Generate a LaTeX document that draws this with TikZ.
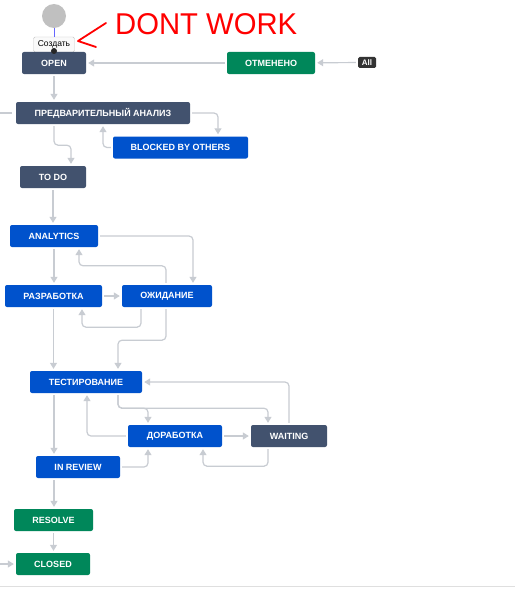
\documentclass[tikz,border=0pt]{standalone}
\usepackage{fontspec}
\setmainfont{Liberation Sans}
\usetikzlibrary{arrows.meta}
\definecolor{jdark}{HTML}{42526E}
\definecolor{jblue}{HTML}{0052CC}
\definecolor{jgreen}{HTML}{00875A}
\definecolor{jline}{HTML}{C8CCD2}
\definecolor{jstart}{HTML}{C0C0C0}

\tikzset{
  status/.style={rounded corners=2pt, text=white, minimum height=22pt, inner sep=0pt,
    font=\fontsize{9}{10}\selectfont\bfseries},
  darkstatus/.style={status, fill=jdark},
  bluestatus/.style={status, fill=jblue},
  greenstatus/.style={status, fill=jgreen},
  flow/.style={draw=jline, line width=1.2pt, ->, rounded corners=4pt,
    shorten >=2pt, shorten <=2pt},
}

\begin{document}
\begin{tikzpicture}[x=1pt, y=-1pt, >={Triangle[length=6pt,width=7pt]}]
    \useasboundingbox[fill=white] (0,0) rectangle (515,610);

    % Start and create button
    \node[circle, fill=jstart, minimum size=24pt, inner sep=0pt] (start) at (54,16) {};
    \node[draw=gray!45, fill=gray!4, rounded corners=1.5pt, minimum width=41pt, minimum height=15pt,
      inner sep=0pt, font=\fontsize{8.5}{10}\selectfont] (create) at (54,44.5) {Создать};
    \draw[blue!60, line width=1pt] (start) -- (create);

    % Note in red
    \node[red, anchor=west, inner sep=0pt] (note) at (115,24) {\resizebox{182pt}{21pt}{DONT WORK}};
    \draw[red, line width=1.8pt, line cap=round, line join=round] (106,23) -- (78,41) -- (96,47);

    % Statuses
    \node[darkstatus, minimum width=64pt] (open) at (54,63) {OPEN};
    \node[greenstatus, minimum width=88pt] (cancel) at (271,63) {ОТМЕНЕНО};
    \node[fill=black!80, text=white, rounded corners=1.5pt, minimum width=18pt, minimum height=11pt,
      inner sep=0pt, font=\fontsize{8}{9}\selectfont\bfseries] (all) at (367,62.5) {All};
    \node[darkstatus, minimum width=174pt] (pre) at (103,113) {ПРЕДВАРИТЕЛЬНЫЙ АНАЛИЗ};
    \node[bluestatus, minimum width=135pt] (blocked) at (180.5,147.5) {BLOCKED BY OTHERS};
    \node[darkstatus, minimum width=66pt] (todo) at (53,177) {TO DO};
    \node[bluestatus, minimum width=88pt] (analytics) at (54,236) {ANALYTICS};
    \node[bluestatus, minimum width=97pt] (razr) at (53.5,296) {РАЗРАБОТКА};
    \node[bluestatus, minimum width=90pt] (wait1) at (167,296) {ОЖИДАНИЕ};
    \node[bluestatus, minimum width=112pt] (test) at (86,382) {ТЕСТИРОВАНИЕ};
    \node[bluestatus, minimum width=94pt] (fix) at (175,436) {ДОРАБОТКА};
    \node[darkstatus, minimum width=76pt] (waiting) at (289,436) {WAITING};
    \node[bluestatus, minimum width=84pt] (review) at (78,467) {IN REVIEW};
    \node[greenstatus, minimum width=79pt] (resolve) at (53.5,520) {RESOLVE};
    \node[greenstatus, minimum width=74pt] (closed) at (53,564) {CLOSED};
    \fill[black!85] (54,51) circle (3pt);

    % Free ends on the left
    \coordinate (inpre) at (0,113);
    \coordinate (inclosed) at (0,564);

    % Transitions
    \draw[flow] (all) -- (cancel);
    \draw[flow] (cancel) -- (open);
    \draw[flow] (open.south) -- (open.south |- pre.north);
    \draw[draw=jline, line width=1.2pt] (inpre) -- ++(12,0);
    \draw[flow] (pre.east) -| ([xshift=37.5pt]blocked.north);
    \draw[flow] (blocked.west) -| (pre.south);
    \draw[flow] ([xshift=-49pt]pre.south) -- ++(0,21) -| ([xshift=18pt]todo.north);
    \draw[flow] (todo.south) -- (todo.south |- analytics.north);
    \draw[flow] (analytics.east) -| ([xshift=26pt]wait1.north);
    \draw[flow] ([xshift=-1pt]wait1.north) -- ++(0,-19) -| ([xshift=25pt]analytics.south);
    \draw[flow] (analytics.south) -- (analytics.south |- razr.north);
    \draw[flow] (razr) -- (wait1);
    \draw[flow] ([xshift=-26pt]wait1.south) -- ++(0,20) -| ([xshift=28.5pt]razr.south);
    \draw[flow] ([xshift=-1pt]wait1.south) -- ++(0,33) -| ([xshift=32pt]test.north);
    \draw[flow] (razr.south) -- (razr.south |- test.north);
    \draw[flow] (waiting.north) |- (test.east);
    \draw[flow] ([xshift=32pt]test.south) -- ++(0,15) -| ([xshift=-27pt]fix.north);
    \draw[flow] ([xshift=32pt]test.south) -- ++(0,15) -| ([xshift=-21pt]waiting.north);
    \draw[flow] (fix.west) -| ([xshift=1pt]test.south);
    \draw[flow] (fix) -- (waiting);
    \draw[flow] ([xshift=-21pt]waiting.south) -- ++(0,19) -| ([xshift=28pt]fix.south);
    \draw[flow] ([xshift=-32pt]test.south) -- ([xshift=-32pt]test.south |- review.north);
    \draw[flow] (review.east) -| ([xshift=-27pt]fix.south);
    \draw[flow] ([xshift=-24pt]review.south) -- ([xshift=-24pt]review.south |- resolve.north);
    \draw[flow] (resolve.south) -- (resolve.south |- closed.north);
    \draw[flow, shorten <=0pt] (inclosed) -- (closed.west);

    % Bottom rule
    \draw[gray!25, line width=1pt] (0,586) -- (515,586);
\end{tikzpicture}
\end{document}
